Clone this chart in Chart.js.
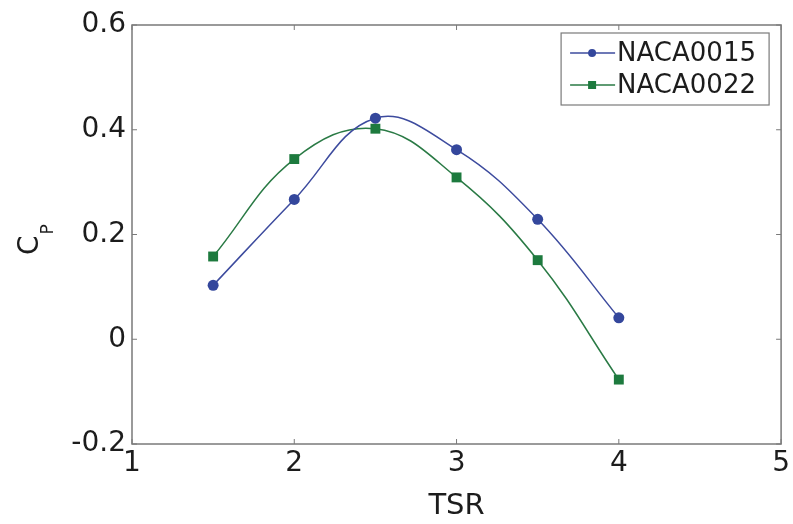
<!DOCTYPE html>
<html>
<head>
<meta charset="utf-8">
<title>Cp vs TSR</title>
<script src="https://cdn.jsdelivr.net/npm/chart.js@4.4.0/dist/chart.umd.min.js"></script>
<style>
    html, body { margin: 0; padding: 0; background: #fff; }
    #wrap { width: 793px; height: 524px; }
</style>
</head>
<body>
<div id="wrap"><canvas id="cpChart" width="793" height="524"></canvas></div>
<script>
// TSR values and power coefficient per airfoil
const tsr = [1.5, 2, 2.5, 3, 3.5, 4];
const cpNaca0015 = [0.103, 0.267, 0.422, 0.362, 0.229, 0.041];
const cpNaca0022 = [0.158, 0.344, 0.402, 0.309, 0.151, -0.077];
const seriesNames = ['NACA0015', 'NACA0022'];
const xTicks = [1, 2, 3, 4, 5];
const yTicks = [-0.2, 0, 0.2, 0.4, 0.6];

const FONT = '"DejaVu Sans", sans-serif';
const axisColor = '#7a7a7a';
const textColor = '#1c1c1c';

function toPoints(xs, ys) {
    return xs.map((x, i) => ({x: x, y: ys[i]}));
}

// box around plot + inward ticks on all four sides
const boxPlugin = {
    id: 'box',
    afterDatasetsDraw(chart) {
        const {ctx, chartArea: a, scales} = chart;
        ctx.save();
        ctx.strokeStyle = axisColor;
        ctx.lineWidth = 1.5;
        ctx.strokeRect(a.left, a.top, a.right - a.left, a.bottom - a.top);
        ctx.lineWidth = 1;
        const len = 5;
        xTicks.forEach((v) => {
            const px = scales.x.getPixelForValue(v);
            ctx.beginPath();
            ctx.moveTo(px, a.bottom); ctx.lineTo(px, a.bottom - len);
            ctx.moveTo(px, a.top); ctx.lineTo(px, a.top + len);
            ctx.stroke();
        });
        yTicks.forEach((v) => {
            const py = scales.y.getPixelForValue(v);
            ctx.beginPath();
            ctx.moveTo(a.left, py); ctx.lineTo(a.left + len, py);
            ctx.moveTo(a.right, py); ctx.lineTo(a.right - len, py);
            ctx.stroke();
        });
        ctx.restore();
    }
};

// y title: C with subscript P, rotated
const yTitlePlugin = {
    id: 'yTitle',
    afterDraw(chart) {
        const ctx = chart.ctx;
        ctx.save();
        ctx.translate(38, 255);
        ctx.rotate(-Math.PI / 2);
        ctx.fillStyle = textColor;
        ctx.textBaseline = 'alphabetic';
        ctx.textAlign = 'left';
        ctx.font = '28px ' + FONT;
        ctx.fillText('C', 0, 0);
        const w = ctx.measureText('C').width;
        ctx.font = '17px ' + FONT;
        ctx.fillText('P', w + 1, 15);
        ctx.restore();
    }
};

// legend box in upper right corner of the plot
const legendPlugin = {
    id: 'boxLegend',
    afterDraw(chart) {
        const {ctx, chartArea: a} = chart;
        const bw = 208, bh = 72;
        const bx = a.right - 12 - bw, by = a.top + 8;
        ctx.save();
        ctx.fillStyle = '#fff';
        ctx.fillRect(bx, by, bw, bh);
        ctx.strokeStyle = axisColor;
        ctx.lineWidth = 1.2;
        ctx.strokeRect(bx, by, bw, bh);
        chart.data.datasets.forEach((ds, i) => {
            const cy = by + 20 + i * 32;
            ctx.strokeStyle = ds.borderColor;
            ctx.lineWidth = 1.5;
            ctx.beginPath();
            ctx.moveTo(bx + 9, cy);
            ctx.lineTo(bx + 54, cy);
            ctx.stroke();
            ctx.fillStyle = ds.backgroundColor;
            if (ds.pointStyle === 'rect') {
                ctx.fillRect(bx + 31 - 4, cy - 4, 8, 8);
            } else {
                ctx.beginPath();
                ctx.arc(bx + 31, cy, 4, 0, Math.PI * 2);
                ctx.fill();
            }
            ctx.fillStyle = textColor;
            ctx.font = '26px ' + FONT;
            ctx.textBaseline = 'middle';
            ctx.textAlign = 'left';
            ctx.fillText(ds.label, bx + 56, cy + 1);
        });
        ctx.restore();
    }
};

const ctx = document.getElementById('cpChart');
new Chart(ctx, {
    type: 'line',
    data: {
        datasets: [
            {
                label: seriesNames[0],
                data: toPoints(tsr, cpNaca0015),
                borderColor: '#3d4b9e',
                backgroundColor: '#34479c',
                borderWidth: 1.5,
                pointStyle: 'circle',
                pointRadius: 5.5,
                pointBorderWidth: 0,
                tension: 0.4,
            },
            {
                label: seriesNames[1],
                data: toPoints(tsr, cpNaca0022),
                borderColor: '#2a7a45',
                backgroundColor: '#1d7a3e',
                borderWidth: 1.5,
                pointStyle: 'rect',
                pointRadius: 7,
                pointBorderWidth: 0,
                tension: 0.4,
            }
        ]
    },
    options: {
        responsive: false,
        animation: false,
        layout: {padding: {top: 25, right: 10, left: 0, bottom: 0}},
        plugins: {
            legend: {display: false},
            tooltip: {enabled: false},
            title: {display: false}
        },
        scales: {
            x: {
                type: 'linear',
                min: 1,
                max: 5,
                afterBuildTicks: (s) => { s.ticks = xTicks.map((v) => ({value: v})); },
                afterFit: (s) => { s.height = 80; },
                grid: {display: false, drawTicks: false},
                border: {display: false},
                ticks: {
                    color: textColor,
                    font: {family: FONT, size: 28},
                    padding: 3,
                    maxRotation: 0,
                    callback: (v) => String(v)
                },
                title: {
                    display: true,
                    text: 'TSR',
                    color: textColor,
                    font: {family: FONT, size: 29},
                    padding: {top: 6, bottom: 0}
                }
            },
            y: {
                min: -0.2,
                max: 0.6,
                afterBuildTicks: (s) => { s.ticks = yTicks.map((v) => ({value: v})); },
                afterFit: (s) => { s.width = 132; },
                grid: {display: false, drawTicks: false},
                border: {display: false},
                ticks: {
                    color: textColor,
                    font: {family: FONT, size: 28},
                    padding: 6,
                    callback: (v) => String(Math.round(v * 10) / 10)
                }
            }
        }
    },
    plugins: [boxPlugin, yTitlePlugin, legendPlugin]
});
</script>
</body>
</html>
